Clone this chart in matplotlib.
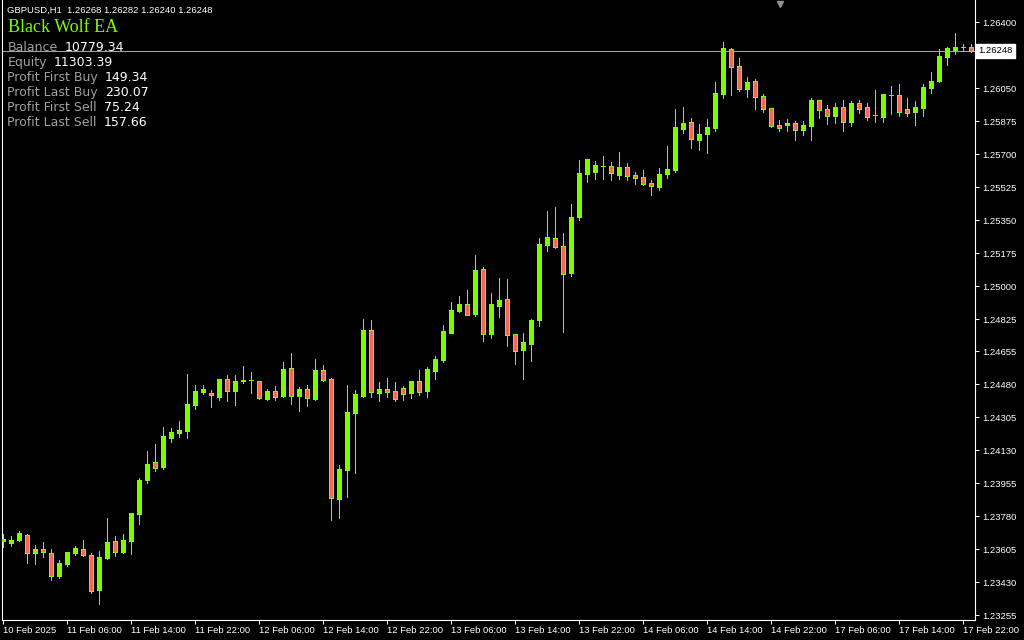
import matplotlib
matplotlib.use("Agg")
import matplotlib.pyplot as plt

# ---------------- data (GBPUSD H1) ----------------
opens = [1.23648, 1.23637, 1.23653, 1.23680, 1.23584, 1.23605, 1.23584, 1.23462, 1.23526, 1.23584,
         1.23605, 1.23574, 1.23388, 1.23558, 1.23648, 1.23589, 1.23648, 1.23791, 1.23971, 1.24067,
         1.24040, 1.24194, 1.24221, 1.24231, 1.24369, 1.24438, 1.24433, 1.24411, 1.24507, 1.24443,
         1.24496, 1.24502, 1.24496, 1.24401, 1.24443, 1.24417, 1.24565, 1.24417, 1.24454, 1.24401,
         1.24555, 1.24507, 1.23870, 1.24024, 1.24327, 1.24417, 1.24767, 1.24433, 1.24454, 1.24443,
         1.24459, 1.24433, 1.24496, 1.24443, 1.24549, 1.24608, 1.24751, 1.24867, 1.24905, 1.24851,
         1.25090, 1.24745, 1.24894, 1.24931, 1.24745, 1.24661, 1.24692, 1.24820, 1.25217, 1.25255,
         1.25212, 1.25069, 1.25366, 1.25594, 1.25605, 1.25636, 1.25636, 1.25589, 1.25631, 1.25589,
         1.25578, 1.25546, 1.25525, 1.25594, 1.25615, 1.25833, 1.25870, 1.25774, 1.25806, 1.25838,
         1.26018, 1.26257, 1.26167, 1.26045, 1.26087, 1.26008, 1.25944, 1.25854, 1.25854, 1.25864,
         1.25827, 1.25848, 1.25986, 1.25939, 1.25902, 1.25949, 1.25870, 1.25970, 1.25949, 1.25907,
         1.25896, 1.26013, 1.26013, 1.25939, 1.25923, 1.25944, 1.26050, 1.26087, 1.26214, 1.26252,
         1.26267, 1.26268]
highs = [1.23685, 1.23674, 1.23701, 1.23685, 1.23627, 1.23642, 1.23605, 1.23547, 1.23589, 1.23621,
         1.23653, 1.23584, 1.23595, 1.23770, 1.23674, 1.23685, 1.23796, 1.23982, 1.24125, 1.24162,
         1.24252, 1.24247, 1.24284, 1.24533, 1.24475, 1.24475, 1.24448, 1.24507, 1.24528, 1.24528,
         1.24576, 1.24544, 1.24496, 1.24454, 1.24470, 1.24597, 1.24645, 1.24464, 1.24475, 1.24613,
         1.24581, 1.24512, 1.24051, 1.24475, 1.24448, 1.24825, 1.24820, 1.24491, 1.24512, 1.24491,
         1.24470, 1.24496, 1.24555, 1.24570, 1.24629, 1.24793, 1.24915, 1.24947, 1.24979, 1.25164,
         1.25101, 1.24963, 1.25042, 1.25037, 1.24745, 1.24751, 1.24825, 1.25255, 1.25398, 1.25419,
         1.25281, 1.25435, 1.25668, 1.25673, 1.25663, 1.25689, 1.25658, 1.25711, 1.25652, 1.25605,
         1.25615, 1.25562, 1.25626, 1.25742, 1.25939, 1.25949, 1.25891, 1.25859, 1.25886, 1.26082,
         1.26294, 1.26262, 1.26209, 1.26108, 1.26098, 1.26018, 1.25944, 1.25880, 1.25886, 1.25875,
         1.25875, 1.25997, 1.25986, 1.25960, 1.25970, 1.25986, 1.25981, 1.25986, 1.25970, 1.26039,
         1.26018, 1.26061, 1.26071, 1.25997, 1.25981, 1.26071, 1.26135, 1.26257, 1.26267, 1.26342,
         1.26283, 1.26282]
lows = [1.23616, 1.23621, 1.23648, 1.23531, 1.23526, 1.23563, 1.23441, 1.23452, 1.23515, 1.23574,
        1.23568, 1.23372, 1.23314, 1.23552, 1.23568, 1.23584, 1.23579, 1.23738, 1.23955, 1.24019,
        1.24030, 1.24173, 1.24199, 1.24194, 1.24348, 1.24427, 1.24358, 1.24395, 1.24390, 1.24369,
        1.24486, 1.24433, 1.24401, 1.24395, 1.24395, 1.24411, 1.24374, 1.24337, 1.24364, 1.24395,
        1.24496, 1.23759, 1.23770, 1.23881, 1.24008, 1.24411, 1.24411, 1.24390, 1.24411, 1.24390,
        1.24395, 1.24406, 1.24422, 1.24411, 1.24507, 1.24597, 1.24751, 1.24862, 1.24846, 1.24841,
        1.24708, 1.24724, 1.24836, 1.24682, 1.24586, 1.24507, 1.24602, 1.24788, 1.25186, 1.25202,
        1.24756, 1.25053, 1.25350, 1.25552, 1.25567, 1.25567, 1.25562, 1.25567, 1.25562, 1.25541,
        1.25536, 1.25483, 1.25509, 1.25573, 1.25605, 1.25811, 1.25732, 1.25721, 1.25705, 1.25822,
        1.25997, 1.26013, 1.26034, 1.26002, 1.25939, 1.25923, 1.25843, 1.25822, 1.25822, 1.25774,
        1.25801, 1.25774, 1.25891, 1.25859, 1.25864, 1.25822, 1.25848, 1.25917, 1.25880, 1.25870,
        1.25870, 1.25912, 1.25902, 1.25902, 1.25854, 1.25902, 1.26024, 1.26082, 1.26172, 1.26230,
        1.26246, 1.26240]
closes = [1.23658, 1.23653, 1.23690, 1.23584, 1.23605, 1.23589, 1.23462, 1.23531, 1.23589, 1.23611,
          1.23574, 1.23383, 1.23563, 1.23642, 1.23589, 1.23653, 1.23796, 1.23971, 1.24056, 1.24035,
          1.24205, 1.24226, 1.24236, 1.24374, 1.24443, 1.24454, 1.24422, 1.24507, 1.24443, 1.24496,
          1.24502, 1.24502, 1.24406, 1.24443, 1.24411, 1.24560, 1.24417, 1.24454, 1.24406, 1.24555,
          1.24502, 1.23876, 1.24030, 1.24332, 1.24427, 1.24767, 1.24438, 1.24454, 1.24438, 1.24401,
          1.24427, 1.24496, 1.24438, 1.24560, 1.24613, 1.24761, 1.24873, 1.24905, 1.24846, 1.25085,
          1.24745, 1.24905, 1.24926, 1.24740, 1.24655, 1.24703, 1.24820, 1.25223, 1.25260, 1.25207,
          1.25064, 1.25366, 1.25599, 1.25673, 1.25642, 1.25636, 1.25599, 1.25631, 1.25583, 1.25573,
          1.25541, 1.25530, 1.25594, 1.25620, 1.25843, 1.25864, 1.25780, 1.25806, 1.25843, 1.26024,
          1.26262, 1.26161, 1.26045, 1.26082, 1.26002, 1.25939, 1.25848, 1.25838, 1.25864, 1.25827,
          1.25854, 1.25986, 1.25933, 1.25902, 1.25949, 1.25870, 1.25970, 1.25939, 1.25896, 1.25907,
          1.26018, 1.26013, 1.25923, 1.25917, 1.25949, 1.26055, 1.26087, 1.26220, 1.26262, 1.26267,
          1.26268, 1.26248]

xtick_pos = [0, 8, 16, 24, 32, 40, 48, 56, 64, 72, 80, 88, 96, 104, 112, 120]
xtick_labels = ["10 Feb 2025", "11 Feb 06:00", "11 Feb 14:00", "11 Feb 22:00", "12 Feb 06:00",
                "12 Feb 14:00", "12 Feb 22:00", "13 Feb 06:00", "13 Feb 14:00", "13 Feb 22:00",
                "14 Feb 06:00", "14 Feb 14:00", "14 Feb 22:00", "17 Feb 06:00", "17 Feb 14:00",
                "17 Feb 22:00"]
ytick_labels = ["1.26400", "1.26225", "1.26050", "1.25875", "1.25700", "1.25525", "1.25350",
                "1.25175", "1.25000", "1.24825", "1.24655", "1.24480", "1.24305", "1.24130",
                "1.23955", "1.23780", "1.23605", "1.23430", "1.23255"]
current_price = 1.26248
header = "GBPUSD,H1  1.26268 1.26282 1.26240 1.26248"
ea_name = "Black Wolf EA"
info_labels = ["Balance", "Equity", "Profit First Buy", "Profit Last Buy",
               "Profit First Sell", "Profit Last Sell"]
info_values = ["10779.34", "11303.39", "149.34", "230.07", "75.24", "157.66"]

# ---------------- style ----------------
BULL = "#7CFC00"
BEAR = "#F26A4F"
GREY = "#A0A0A0"
SMALL = dict(family="Liberation Sans", fontsize=6.8)
W, H = 1024, 640

fig = plt.figure(figsize=(W / 100, H / 100), dpi=100, facecolor="black")
ax = fig.add_axes([2 / W, 20 / H, 973 / W, 620 / H])
ax.set_facecolor("black")

xs = list(range(len(opens)))
bottoms = [min(o, c) for o, c in zip(opens, closes)]
heights = [abs(c - o) for o, c in zip(opens, closes)]
fills = [BULL if c >= o else BEAR for o, c in zip(opens, closes)]

ax.vlines(xs, lows, highs, colors=BULL, linewidth=0.72, zorder=2,
          antialiased=False)
ax.bar(xs, heights, bottom=bottoms, width=0.5, color=fills, edgecolor=BULL,
       linewidth=0.72, zorder=3, antialiased=False)

ax.axhline(current_price, color=GREY, linewidth=0.8, zorder=1)

ax.set_xlim(-0.125, 121.5)
ax.set_ylim(1.232288, 1.265167)

for side in ("left", "bottom", "right"):
    ax.spines[side].set_color("white")
    ax.spines[side].set_linewidth(0.8)
ax.spines["top"].set_visible(False)

ax.set_xticks(xtick_pos)
ax.set_xticklabels(xtick_labels, ha="left", color="white", **SMALL)
ax.yaxis.tick_right()
ax.set_yticks([float(v) for v in ytick_labels])
ax.set_yticklabels(ytick_labels, color="white", **SMALL)
ax.tick_params(axis="x", colors="white", length=3, width=0.75, pad=1.5)
ax.tick_params(axis="y", colors="white", length=3, width=0.75, pad=2.5)

ax.annotate(f"{current_price:.5f}", xy=(1, current_price),
            xycoords=("axes fraction", "data"), xytext=(2.5, 0),
            textcoords="offset points", ha="left", va="center", color="black",
            bbox=dict(boxstyle="square,pad=0.25", fc="white", ec="white"),
            annotation_clip=False, zorder=10, **SMALL)

# chart shift marker
ax.plot([0.7996], [0.994], marker="v", ms=5, color="#909090",
        transform=ax.transAxes, clip_on=False, zorder=5)

# ---------------- overlay texts ----------------
fig.text(7 / W, 1 - 10 / H, header, color="white", va="center", **SMALL)
fig.text(8 / W, 1 - 32.5 / H, ea_name, color=BULL, va="baseline",
         family="Liberation Serif", fontsize=13)
for i, (lab, val) in enumerate(zip(info_labels, info_values)):
    yb = 50.7 + 15 * i
    t = fig.text(7.3 / W, 1 - yb / H, lab, color=GREY, va="baseline",
                 family="DejaVu Sans", fontsize=9)
    ax.annotate(val, xy=(1, 0), xycoords=t, xytext=(5.0, 0),
                textcoords="offset points", ha="left", va="bottom",
                color="white", family="DejaVu Sans", fontsize=9,
                annotation_clip=False)

fig.savefig("out.png", dpi=100, facecolor="black")
